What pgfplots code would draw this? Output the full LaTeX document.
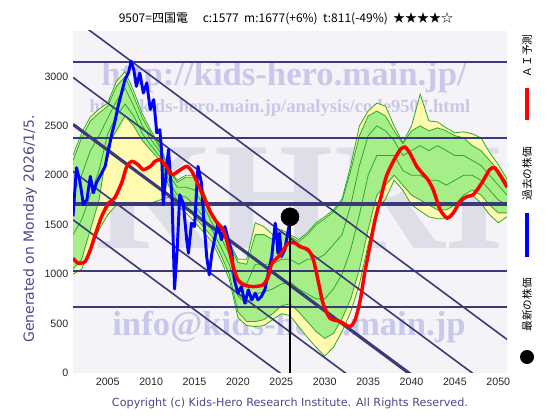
\documentclass[border=0pt]{standalone}
\usepackage{pgfplots}
\pgfplotsset{compat=1.18}
\usepgfplotslibrary{fillbetween}
\usepackage{pgfplotstable}
\usepackage{fontspec}
\setmainfont{Liberation Sans}
\newfontfamily\cjk{Noto Sans CJK JP}
\newfontfamily\wm{Liberation Serif}
\newfontfamily\dv{DejaVu Sans}

\definecolor{navy}{HTML}{3A3A78}
\definecolor{bandY}{HTML}{FFFAB0}
\definecolor{bandG}{HTML}{A6EE88}
\definecolor{lineG}{HTML}{2AAA2A}
\definecolor{wmblue}{HTML}{C8C8EA}
\definecolor{wmgray}{HTML}{DEDEE8}
\definecolor{txtblue}{HTML}{4A4A8C}
\definecolor{bg}{HTML}{F5F3F7}

% year, outer band (yellow), inner band (green), two inner lines
\pgfplotstableread{
year yu yl gu gl ga gb
2001 2200 1000 2150 1050 1800 1400
2002 2430 1050 2380 1150 2000 1550
2003 2590 1250 2550 1450 2250 1800
2004 2670 1450 2630 1750 2400 2050
2005 2730 1600 2700 2300 2580 2420
2006 2950 1700 2900 2450 2750 2600
2007 3050 1720 3000 2600 2880 2720
2008 2850 1720 2800 2500 2700 2600
2009 2620 1720 2580 2350 2500 2420
2010 2450 1720 2420 2250 2360 2300
2011 2300 1750 2280 2150 2240 2190
2012 2080 1780 2060 1900 2010 1950
2013 1950 1700 1930 1750 1880 1800
2014 2000 1620 1980 1680 1880 1780
2015 2000 1530 1980 1580 1850 1700
2016 1850 1430 1830 1480 1700 1580
2017 1620 1330 1600 1380 1520 1450
2018 1480 1150 1460 1200 1380 1280
2019 1330 950 1300 1000 1200 1100
2020 1150 560 1120 620 950 780
2021 1150 480 1100 520 900 700
2022 1520 470 1400 520 1100 800
2023 1480 480 1400 540 1100 820
2024 1400 540 1350 600 1100 850
2025 1450 600 1420 680 1150 900
2026 1400 580 1380 700 1150 920
2027 1350 470 1330 620 1100 850
2028 1420 360 1400 520 1150 800
2029 1520 260 1500 420 1150 750
2030 1580 170 1560 350 1200 750
2031 1650 260 1630 400 1300 850
2032 1760 420 1740 550 1400 1000
2033 2100 620 2050 750 1700 1250
2034 2500 900 2400 1050 2100 1600
2035 2650 1300 2600 1450 2400 2000
2036 2730 1650 2650 1800 2500 2200
2037 2700 1760 2600 1900 2450 2200
2038 2500 1950 2450 2000 2350 2200
2039 2330 1850 2320 1900 2200 2050
2040 2500 1700 2450 1800 2250 2000
2041 2820 1640 2500 1750 2300 2000
2042 2550 1580 2450 1700 2250 1950
2043 2540 1560 2480 1650 2300 1950
2044 2480 1560 2450 1650 2250 1900
2045 2430 1650 2400 1700 2200 1950
2046 2440 1750 2380 1800 2200 2000
2047 2420 1800 2300 1850 2150 2000
2048 2380 1720 2250 1800 2100 1950
2049 2230 1600 2150 1700 2000 1850
2050 2110 1520 2050 1620 1900 1750
2051 1960 1580 1930 1620 1800 1700
}\band

\begin{document}
\begin{tikzpicture}
\begin{scope}[x=0.75pt,y=0.75pt]
\path[fill=white] (0,0) rectangle (560,420);
\fill[bg] (73,47) rectangle (507,389);
% watermarks
\node[text=wmblue, font=\wm\bfseries\fontsize{26}{26}\selectfont] at (284,343) {http://kids-hero.main.jp/};
\node[text=wmblue, font=\wm\bfseries\fontsize{14}{14}\selectfont] at (280,312) {http://kids-hero.main.jp/analysis/code9507.html};
\node[text=wmgray, font=\wm\bfseries\fontsize{115}{115}\selectfont] at (300,222) {KHRI};
\node[text=wmblue, font=\wm\bfseries\fontsize{26}{26}\selectfont] at (289,93) {info@kids-hero.main.jp};
\end{scope}

\begin{axis}[
  at={(54.75pt,35.25pt)}, anchor=south west,
  scale only axis, width=325.5pt, height=256.5pt,
  xmin=2001, xmax=2051, ymin=0, ymax=3460,
  xtick={2005,2010,...,2050}, ytick={0,500,...,3000},
  /pgf/number format/assume math mode=true,
  xticklabel style={/pgf/number format/1000 sep={}},
  yticklabel style={/pgf/number format/1000 sep={}},
  tick label style={font=\fontsize{8}{9}\selectfont, text=black!85},
  grid=major, major grid style={color=gray!30, line width=0.5pt},
  axis line style={gray!80},
  major tick length=3pt, tick style={navy},
  fill between/on layer=main,
]
% bands
\addplot[draw=none, name path=yu, forget plot] table[x=year,y=yu]{\band};
\addplot[draw=none, name path=yl, forget plot] table[x=year,y=yl]{\band};
\addplot[bandY] fill between[of=yu and yl];
\addplot[draw=none, name path=gu, forget plot] table[x=year,y=gu]{\band};
\addplot[draw=none, name path=gl, forget plot] table[x=year,y=gl]{\band};
\addplot[bandG] fill between[of=gu and gl];
\addplot[lineG, line width=0.6pt] table[x=year,y=yu]{\band};
\addplot[lineG, line width=0.6pt] table[x=year,y=yl]{\band};
\addplot[lineG, line width=0.6pt] table[x=year,y=gu]{\band};
\addplot[lineG, line width=0.6pt] table[x=year,y=gl]{\band};
\addplot[lineG, line width=0.6pt] table[x=year,y=ga]{\band};
\addplot[lineG, line width=0.6pt] table[x=year,y=gb]{\band};

% horizontal levels
\addplot[navy, line width=1.5pt] coordinates {(2001,3150) (2051,3150)};
\addplot[navy, line width=1.5pt] coordinates {(2001,2380) (2051,2380)};
\addplot[navy, line width=3pt] coordinates {(2001,1705) (2051,1705)};
\addplot[navy, line width=1.5pt] coordinates {(2001,1035) (2051,1035)};
\addplot[navy, line width=1.5pt] coordinates {(2001,670) (2051,670)};

% trend channel
\addplot[navy, line width=1.2pt] coordinates {(2001,3590) (2051,340)};
\addplot[navy, line width=1.2pt] coordinates {(2001,2990) (2051,-260)};
\addplot[navy, line width=2.4pt] coordinates {(2001,2515) (2051,-735)};
\addplot[navy, line width=1.2pt] coordinates {(2001,2040) (2051,-1210)};
\addplot[navy, line width=1.2pt] coordinates {(2001,1550) (2051,-1700)};

% past price
\addplot[blue, line width=2.2pt, line join=round] coordinates {
(2001,1584)(2001.4,2077)(2001.8,1938)(2002.2,1702)(2002.6,1753)(2003.0,1989)
(2003.35,1823)(2003.7,1925)(2004.1,1989)(2004.7,2090)(2005.1,2260)(2005.5,2430)
(2005.8,2530)(2006.2,2700)(2006.6,2835)(2007.0,2970)(2007.4,3040)(2007.7,3155)
(2008.0,3070)(2008.3,2900)(2008.7,3035)(2009.1,2833)(2009.5,2935)(2009.9,2665)
(2010.3,2766)(2010.65,2430)(2011.0,2462)(2011.2,2260)(2011.4,1702)(2011.8,2090)
(2012.0,2260)(2012.4,1786)(2012.7,850)(2013.0,1246)(2013.3,1803)(2013.7,1719)
(2014.1,1348)(2014.3,1213)(2014.65,1516)(2015.0,1482)(2015.4,2090)(2015.8,1922)
(2016.1,1516)(2016.4,1178)(2016.7,993)(2017.0,1213)(2017.3,1348)(2017.7,1516)
(2018.1,1348)(2018.5,1482)(2018.9,1348)(2019.3,1213)(2019.6,942)(2020.0,807)
(2020.4,874)(2020.8,706)(2021.2,841)(2021.6,740)(2022.0,807)(2022.3,740)
(2022.7,773)(2023.1,841)(2023.5,1010)(2023.9,1178)(2024.3,1516)(2024.5,1348)
(2024.6,1213)(2024.8,1415)(2025.0,1178)(2025.4,1246)(2025.8,1449)(2026.0,1530)
};

% AI forecast
\addplot[red, line width=2.6pt, smooth, tension=0.4] coordinates {
(2001,1160)(2001.6,1111)(2002.4,1128)(2003.0,1246)(2003.5,1381)(2004.3,1584)
(2005.1,1719)(2005.8,1770)(2006.6,1922)(2007.2,2090)(2007.8,2141)(2008.5,2107)
(2009.1,2057)(2009.9,2090)(2010.45,2141)(2011.0,2158)(2011.6,2107)(2012.4,2006)
(2013.1,2040)(2014.1,2090)(2014.8,2023)(2016.2,1753)(2016.8,1634)(2017.5,1533)
(2018.3,1449)(2018.9,1280)(2019.45,1077)(2020.0,942)(2020.6,892)(2021.75,874)
(2022.9,892)(2023.5,976)(2023.9,1111)(2024.5,1162)(2025.0,1213)(2025.8,1314)
(2026.6,1314)(2027.1,1280)(2028.1,1246)(2028.7,1145)(2029.3,909)(2029.8,706)
(2030.6,554)(2031.8,520)(2032.9,469)(2033.5,537)(2034.1,740)(2034.6,1010)
(2035.2,1280)(2035.8,1550)(2036.4,1753)(2037.1,1989)(2037.9,2141)(2038.7,2260)
(2039.25,2286)(2039.8,2226)(2040.6,2090)(2041.4,2006)(2041.9,1955)(2042.5,1854)
(2043.3,1651)(2044.1,1567)(2044.8,1617)(2045.6,1736)(2046.4,1787)(2047.1,1803)
(2048.1,1922)(2049.0,2057)(2049.6,2074)(2050.4,1972)(2051,1880)
};

% latest price
\addplot[black, line width=1.1pt] coordinates {(2026,0) (2026,1580)};
\addplot[only marks, mark=*, mark size=6.75pt, black] coordinates {(2026,1580)};
\end{axis}

\begin{scope}[x=0.75pt,y=0.75pt]
% title
\node[font=\cjk\fontsize{9}{10}\selectfont] at (286,401)
  {9507=四国電\quad\ c:1577\ \ m:1677(+6\%)\ \ t:811(-49\%)\ \ ★★★★☆};
% side texts
\node[rotate=90, text=txtblue, font=\dv\fontsize{10.5}{11}\selectfont] at (30,191) {Generated on Monday 2026/1/5.};
\node[text=txtblue, font=\dv\fontsize{8.4}{9}\selectfont] at (290,17) {Copyright (c) Kids-Hero Research Institute. All Rights Reserved.};
% legend
\node[rotate=90, font=\cjk\fontsize{8}{9}\selectfont] at (527,364) {ＡＩ予測};
\draw[red, line width=3pt] (527,300) -- (527,332);
\node[rotate=90, font=\cjk\fontsize{8}{9}\selectfont] at (527,246) {過去の株価};
\draw[blue, line width=3pt] (527,163) -- (527,207);
\node[rotate=90, font=\cjk\fontsize{8}{9}\selectfont] at (527,115) {最新の株価};
\fill[black] (527,63) circle (7);
\end{scope}
\path[use as bounding box] (0,0) rectangle (420pt,315pt);
\end{tikzpicture}
\end{document}
